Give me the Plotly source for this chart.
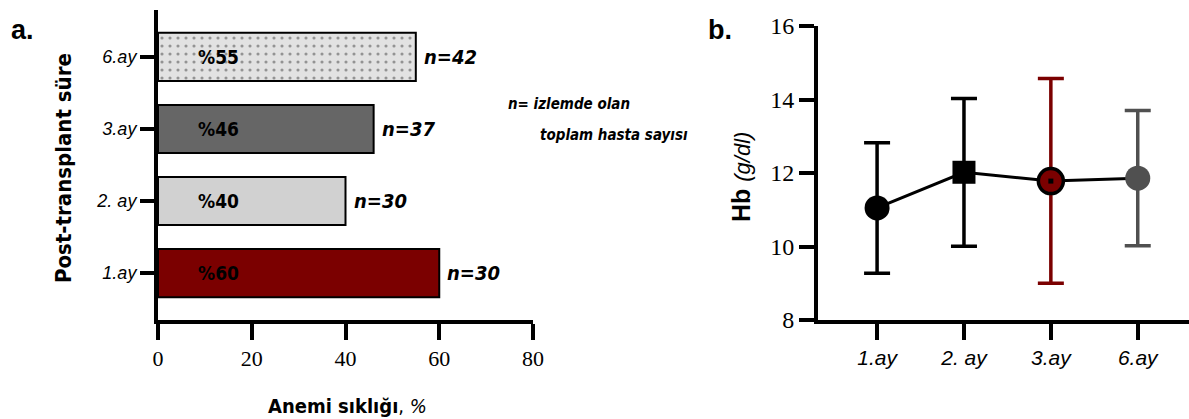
import plotly.graph_objects as go

# ---- data ----
bar_cats = ["1.ay", "2. ay", "3.ay", "6.ay"]
anemia_pct = [60, 40, 46, 55]
n_patients = [30, 30, 37, 42]
pct_labels = ["%60", "%40", "%46", "%55"]
bar_colors = ["#7b0000", "#d1d1d1", "#666666", "#e2e2e2"]
bar_patterns = ["", "", "", "."]

hb_cats = ["1.ay", "2. ay", "3.ay", "6.ay"]
hb_mean = [11.05, 12.02, 11.78, 11.86]
hb_upper = [12.82, 14.03, 14.57, 13.70]
hb_lower = [9.27, 10.01, 9.00, 10.02]
hb_symbols = ["circle", "square", "circle", "circle"]
hb_colors = ["black", "black", "#7b0000", "#505050"]
hb_err_colors = ["black", "black", "#7b0000", "#505050"]

W, H = 1189, 419
NARROW = "DejaVu Sans Condensed"
SANS = "Liberation Sans"
SERIF = "Times New Roman"

fig = go.Figure()

# ---- panel a: horizontal bars ----
fig.add_trace(go.Bar(
    x=anemia_pct, y=bar_cats, orientation="h",
    width=0.667,
    marker=dict(
        color=bar_colors,
        line=dict(color="black", width=2),
        pattern=dict(shape=bar_patterns, fgcolor="black", bgcolor=bar_colors,
                     size=8, solidity=0.12, fillmode="overlay"),
    ),
    xaxis="x", yaxis="y", showlegend=False,
))

annotations = []
for cat, v, n, p in zip(bar_cats, anemia_pct, n_patients, pct_labels):
    annotations.append(dict(
        x=v, y=cat, xref="x", yref="y", text=f"<b><i>n={n}</i></b>",
        xanchor="left", yanchor="middle", xshift=6, showarrow=False,
        font=dict(family=NARROW, size=20, color="black")))
    annotations.append(dict(
        x=8, y=cat, xref="x", yref="y", text=f"<b>{p}</b>",
        xanchor="left", yanchor="middle", showarrow=False,
        font=dict(family=NARROW, size=19, color="black")))

# ---- panel b: Hb mean with error bars ----
fig.add_trace(go.Scatter(
    x=hb_cats, y=hb_mean, mode="lines",
    line=dict(color="black", width=3),
    xaxis="x2", yaxis="y2", showlegend=False, hoverinfo="skip"))

for c, m, up, lo, sym, col, ecol in zip(hb_cats, hb_mean, hb_upper, hb_lower,
                                        hb_symbols, hb_colors, hb_err_colors):
    fig.add_trace(go.Scatter(
        x=[c], y=[m], mode="markers",
        marker=dict(symbol=sym, size=25 if sym == "circle" else 23, color=col,
                    line=dict(color="black" if col == "#7b0000" else col,
                              width=3.5 if col == "#7b0000" else 0)),
        error_y=dict(type="data", symmetric=False, array=[up - m],
                     arrayminus=[m - lo], color=ecol, thickness=3.5, width=13),
        xaxis="x2", yaxis="y2", showlegend=False))
    if col == "#7b0000":
        fig.add_trace(go.Scatter(
            x=[c], y=[m], mode="markers",
            marker=dict(symbol="square", size=5, color="black"),
            xaxis="x2", yaxis="y2", showlegend=False))

# ---- text annotations ----
annotations += [
    dict(x=9 / W, y=1 - 30 / H, xref="paper", yref="paper", text="<b>a.</b>",
         xanchor="left", yanchor="middle", showarrow=False,
         font=dict(family=SANS, size=27, color="black")),
    dict(x=706 / W, y=1 - 30 / H, xref="paper", yref="paper", text="<b>b.</b>",
         xanchor="left", yanchor="middle", showarrow=False,
         font=dict(family=SANS, size=27, color="black")),
    dict(x=63 / W, y=1 - 168 / H, xref="paper", yref="paper",
         text="<b>Post-transplant süre</b>", textangle=-90,
         xanchor="center", yanchor="middle", showarrow=False,
         font=dict(family=NARROW, size=22, color="black")),
    dict(x=347 / W, y=1 - 406 / H, xref="paper", yref="paper",
         text="<b>Anemi sıklığı</b>, <i>%</i>",
         xanchor="center", yanchor="middle", showarrow=False,
         font=dict(family=NARROW, size=20, color="black")),
    dict(x=506 / W, y=1 - 104 / H, xref="paper", yref="paper",
         text="<b><i>n= izlemde olan</i></b>",
         xanchor="left", yanchor="middle", showarrow=False,
         font=dict(family=NARROW, size=15, color="black")),
    dict(x=538 / W, y=1 - 135 / H, xref="paper", yref="paper",
         text="<b><i>toplam hasta sayısı</i></b>",
         xanchor="left", yanchor="middle", showarrow=False,
         font=dict(family=NARROW, size=15, color="black")),
    dict(x=741 / W, y=1 - 177 / H, xref="paper", yref="paper",
         text="<b>Hb</b> <i><span style='font-size:22px'>(g/dl)</span></i>",
         textangle=-90, xanchor="center", yanchor="middle", showarrow=False,
         font=dict(family=SANS, size=25, color="black")),
]

axis_common = dict(showline=True, linecolor="black", linewidth=4,
                   ticks="outside", tickcolor="black", tickwidth=3.5,
                   showgrid=False, zeroline=False, automargin=False)

fig.update_layout(
    width=W, height=H,
    margin=dict(l=0, r=0, t=0, b=0, pad=0),
    paper_bgcolor="white", plot_bgcolor="white",
    xaxis=dict(domain=[158 / W, 533 / W], range=[0, 80], tickvals=[0, 20, 40, 60, 80],
               anchor="y", ticklen=16,
               tickfont=dict(family=SERIF, size=22, color="black"), **axis_common),
    yaxis=dict(domain=[1 - 320 / H, 1 - 10 / H], range=[-0.65, 3.65], type="category",
               categoryorder="array", categoryarray=bar_cats, anchor="x", ticklen=14,
               tickfont=dict(family=SANS, size=18, color="black", style="italic"),
               **axis_common),
    xaxis2=dict(domain=[818 / W, 1.0], range=[-0.68, 3.59], type="category",
                categoryorder="array", categoryarray=hb_cats, anchor="y2", ticklen=16,
                tickfont=dict(family=SANS, size=21, color="black", style="italic"),
                **axis_common),
    yaxis2=dict(domain=[1 - 320 / H, 1 - 26 / H], range=[8, 16], tickvals=[8, 10, 12, 14, 16],
                anchor="x2", ticklen=15,
                tickfont=dict(family=SERIF, size=24, color="black"), **axis_common),
    annotations=annotations,
    bargap=0.3,
)

fig.write_html(
    "out.html",
    post_script="document.body.style.margin='0';document.body.style.padding='0';"
                "document.body.style.overflow='hidden';",
)
